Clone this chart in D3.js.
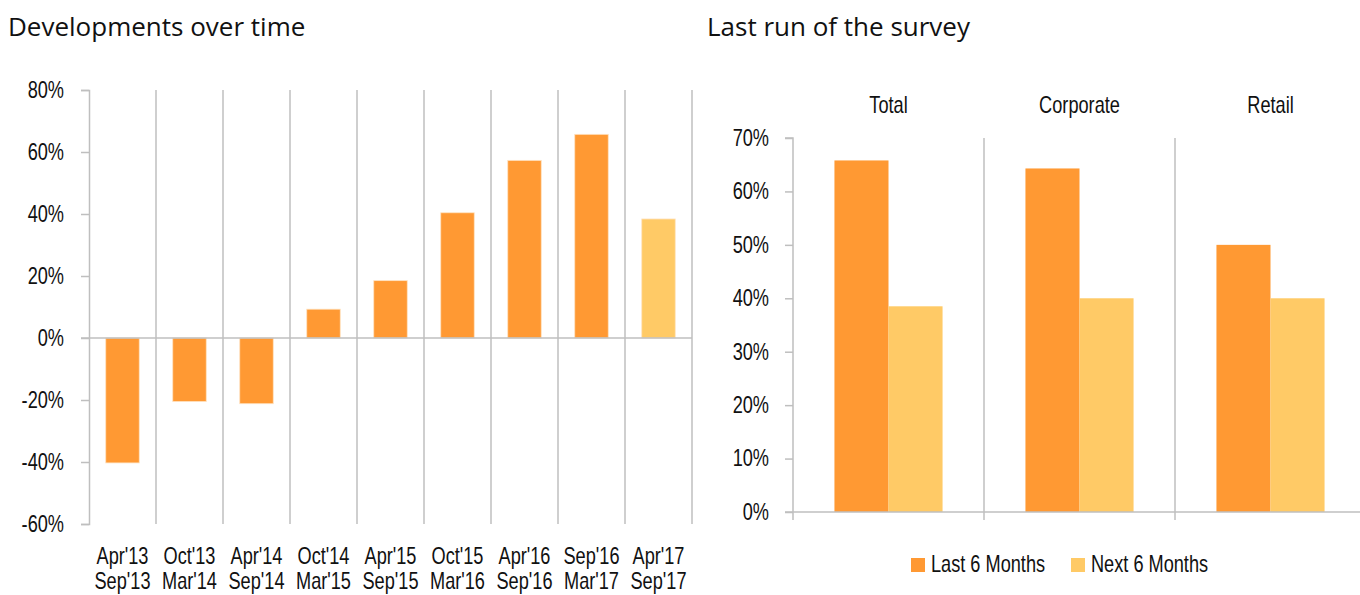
<!DOCTYPE html>
<html>
<head>
<meta charset="utf-8">
<script src="https://cdn.jsdelivr.net/npm/d3@7"></script>
<style>
  body { margin: 0; background: #fff; }
  .cond { font-family: "Liberation Sans", Arial, sans-serif; font-size: 23px; fill: #111;
          transform-box: fill-box; transform: scaleX(0.79); }
  .cond.mid { transform-origin: center; }
  .cond.end { transform-origin: right center; }
  .cond.start { transform-origin: left center; }
  .title { font-family: "Open Sans", "Noto Sans", sans-serif; font-size: 26px; fill: #111; }
</style>
</head>
<body>
<div id="chart"></div>
<script>
// data: developments over time
var periodsTop = ["Apr'13", "Oct'13", "Apr'14", "Oct'14", "Apr'15", "Oct'15", "Apr'16", "Sep'16", "Apr'17"];
var periodsBottom = ["Sep'13", "Mar'14", "Sep'14", "Mar'15", "Sep'15", "Mar'16", "Sep'16", "Mar'17", "Sep'17"];
var balanceValues = [-40.3, -20.5, -21.2, 9.3, 18.5, 40.4, 57.3, 65.7, 38.4];
var isExpected = [false, false, false, false, false, false, false, false, true];
var leftTicks = [-60, -40, -20, 0, 20, 40, 60, 80];

// data: last run of the survey
var segments = ["Total", "Corporate", "Retail"];
var seriesNames = ["Last 6 Months", "Next 6 Months"];
var lastSix = [65.8, 64.3, 50.0];
var nextSix = [38.5, 40.0, 40.0];
var rightTicks = [0, 10, 20, 30, 40, 50, 60, 70];

var orange = "#FF9933";
var lightOrange = "#FFCA66";
var grid = "#BFBFBF";

var svg = d3.select("#chart").append("svg")
    .attr("width", 1360)
    .attr("height", 595);

// ---------- left chart ----------
var left = {x0: 89, x1: 692, top: 90, bottom: 524};

svg.append("text").attr("class", "title")
    .attr("x", 8).attr("y", 36)
    .text("Developments over time");

var lx = d3.scaleBand()
    .domain(periodsTop)
    .range([left.x0, left.x1])
    .paddingInner(0).paddingOuter(0);

var ly = d3.scaleLinear()
    .domain([-60, 80])
    .range([left.bottom, left.top]);

// vertical separators between periods
var lg = svg.append("g");
lg.selectAll("line.sep")
  .data(periodsTop)
  .enter().append("line")
    .attr("x1", d => lx(d) + lx.bandwidth())
    .attr("x2", d => lx(d) + lx.bandwidth())
    .attr("y1", ly(80))
    .attr("y2", ly(-60))
    .attr("stroke", grid).attr("stroke-width", 1.5);

// bars
lg.selectAll("rect")
  .data(balanceValues)
  .enter().append("rect")
    .attr("x", (d, i) => lx(periodsTop[i]) + lx.bandwidth() * 0.25)
    .attr("width", lx.bandwidth() * 0.5)
    .attr("y", d => ly(Math.max(0, d)))
    .attr("height", d => Math.abs(ly(d) - ly(0)))
    .attr("fill", (d, i) => isExpected[i] ? lightOrange : orange)
    .attr("stroke", "#FFE3C2").attr("stroke-width", 0.8);

// y axis
var lyAxis = d3.axisLeft(ly)
    .tickValues(leftTicks)
    .tickSize(8)
    .tickPadding(17)
    .tickFormat(d => d + "%");
var lya = svg.append("g")
    .attr("transform", "translate(" + left.x0 + ",0)")
    .call(lyAxis);
lya.select(".domain").attr("stroke", grid).attr("stroke-width", 1.5);
lya.selectAll(".tick line").attr("stroke", grid).attr("stroke-width", 1.5);
lya.selectAll(".tick text").attr("class", "cond end").attr("fill", "#111");

// zero line
svg.append("line")
    .attr("x1", left.x0 - 8).attr("x2", left.x1)
    .attr("y1", ly(0)).attr("y2", ly(0))
    .attr("stroke", grid).attr("stroke-width", 1.5);

// two-line period labels
var lbl = svg.append("g");
lbl.selectAll("text.top")
  .data(periodsTop)
  .enter().append("text")
    .attr("class", "cond mid")
    .attr("text-anchor", "middle")
    .attr("x", d => lx(d) + lx.bandwidth() / 2)
    .attr("y", 564)
    .text(d => d);
lbl.selectAll("text.bot")
  .data(periodsBottom)
  .enter().append("text")
    .attr("class", "cond mid")
    .attr("text-anchor", "middle")
    .attr("x", (d, i) => lx(periodsTop[i]) + lx.bandwidth() / 2)
    .attr("y", 589)
    .text(d => d);

// ---------- right chart ----------
var right = {x0: 793, x1: 1366, top: 138, bottom: 512};

svg.append("text").attr("class", "title")
    .attr("x", 707).attr("y", 36)
    .text("Last run of the survey");

var rx = d3.scaleBand()
    .domain(segments)
    .range([right.x0, right.x1])
    .paddingInner(0).paddingOuter(0);

var rbw = rx.bandwidth();
var rx1 = d3.scaleBand()
    .domain(seriesNames)
    .range([rbw * 0.217, rbw * 0.783])
    .paddingInner(0);

var ry = d3.scaleLinear()
    .domain([0, 70])
    .range([right.bottom, right.top]);

var rg = svg.append("g");

// separators
rg.selectAll("line.sep")
  .data(segments)
  .enter().append("line")
    .attr("x1", d => rx(d) + rbw)
    .attr("x2", d => rx(d) + rbw)
    .attr("y1", ry(70))
    .attr("y2", ry(0) + 8)
    .attr("stroke", grid).attr("stroke-width", 1.5);

var rows = segments.map((s, i) => ({segment: s, values: [lastSix[i], nextSix[i]]}));
var colorScale = d3.scaleOrdinal().domain(seriesNames).range([orange, lightOrange]);

var groups = rg.selectAll("g.seg")
  .data(rows)
  .enter().append("g")
    .attr("transform", d => "translate(" + rx(d.segment) + ",0)");

groups.selectAll("rect")
  .data(d => d.values.map((v, j) => ({name: seriesNames[j], value: v})))
  .enter().append("rect")
    .attr("x", d => rx1(d.name))
    .attr("width", rx1.bandwidth())
    .attr("y", d => ry(d.value))
    .attr("height", d => ry(0) - ry(d.value))
    .attr("fill", d => colorScale(d.name));

// segment labels
groups.append("text")
    .attr("class", "cond mid")
    .attr("text-anchor", "middle")
    .attr("x", rbw / 2)
    .attr("y", 113)
    .text(d => d.segment);

// y axis
var ryAxis = d3.axisLeft(ry)
    .tickValues(rightTicks)
    .tickSize(8)
    .tickPadding(16)
    .tickFormat(d => d + "%");
var rya = svg.append("g")
    .attr("transform", "translate(" + right.x0 + ",0)")
    .call(ryAxis);
rya.select(".domain").attr("stroke", grid).attr("stroke-width", 1.5);
rya.selectAll(".tick line").attr("stroke", grid).attr("stroke-width", 1.5);
rya.selectAll(".tick text").attr("class", "cond end").attr("fill", "#111");
rya.select(".domain").attr("d", "M-8," + ry(70) + "H0V" + (ry(0) + 8));

// baseline
svg.append("line")
    .attr("x1", right.x0 - 8).attr("x2", 1360)
    .attr("y1", ry(0)).attr("y2", ry(0))
    .attr("stroke", grid).attr("stroke-width", 1.5);

// legend
var legendX = [911, 1071];
var legend = svg.append("g");
var items = legend.selectAll("g")
  .data(seriesNames)
  .enter().append("g")
    .attr("transform", (d, i) => "translate(" + legendX[i] + ",558)");
items.append("rect")
    .attr("width", 14).attr("height", 14)
    .attr("fill", d => colorScale(d));
items.append("text")
    .attr("class", "cond start")
    .attr("x", 20).attr("y", 14)
    .text(d => d);
</script>
</body>
</html>
